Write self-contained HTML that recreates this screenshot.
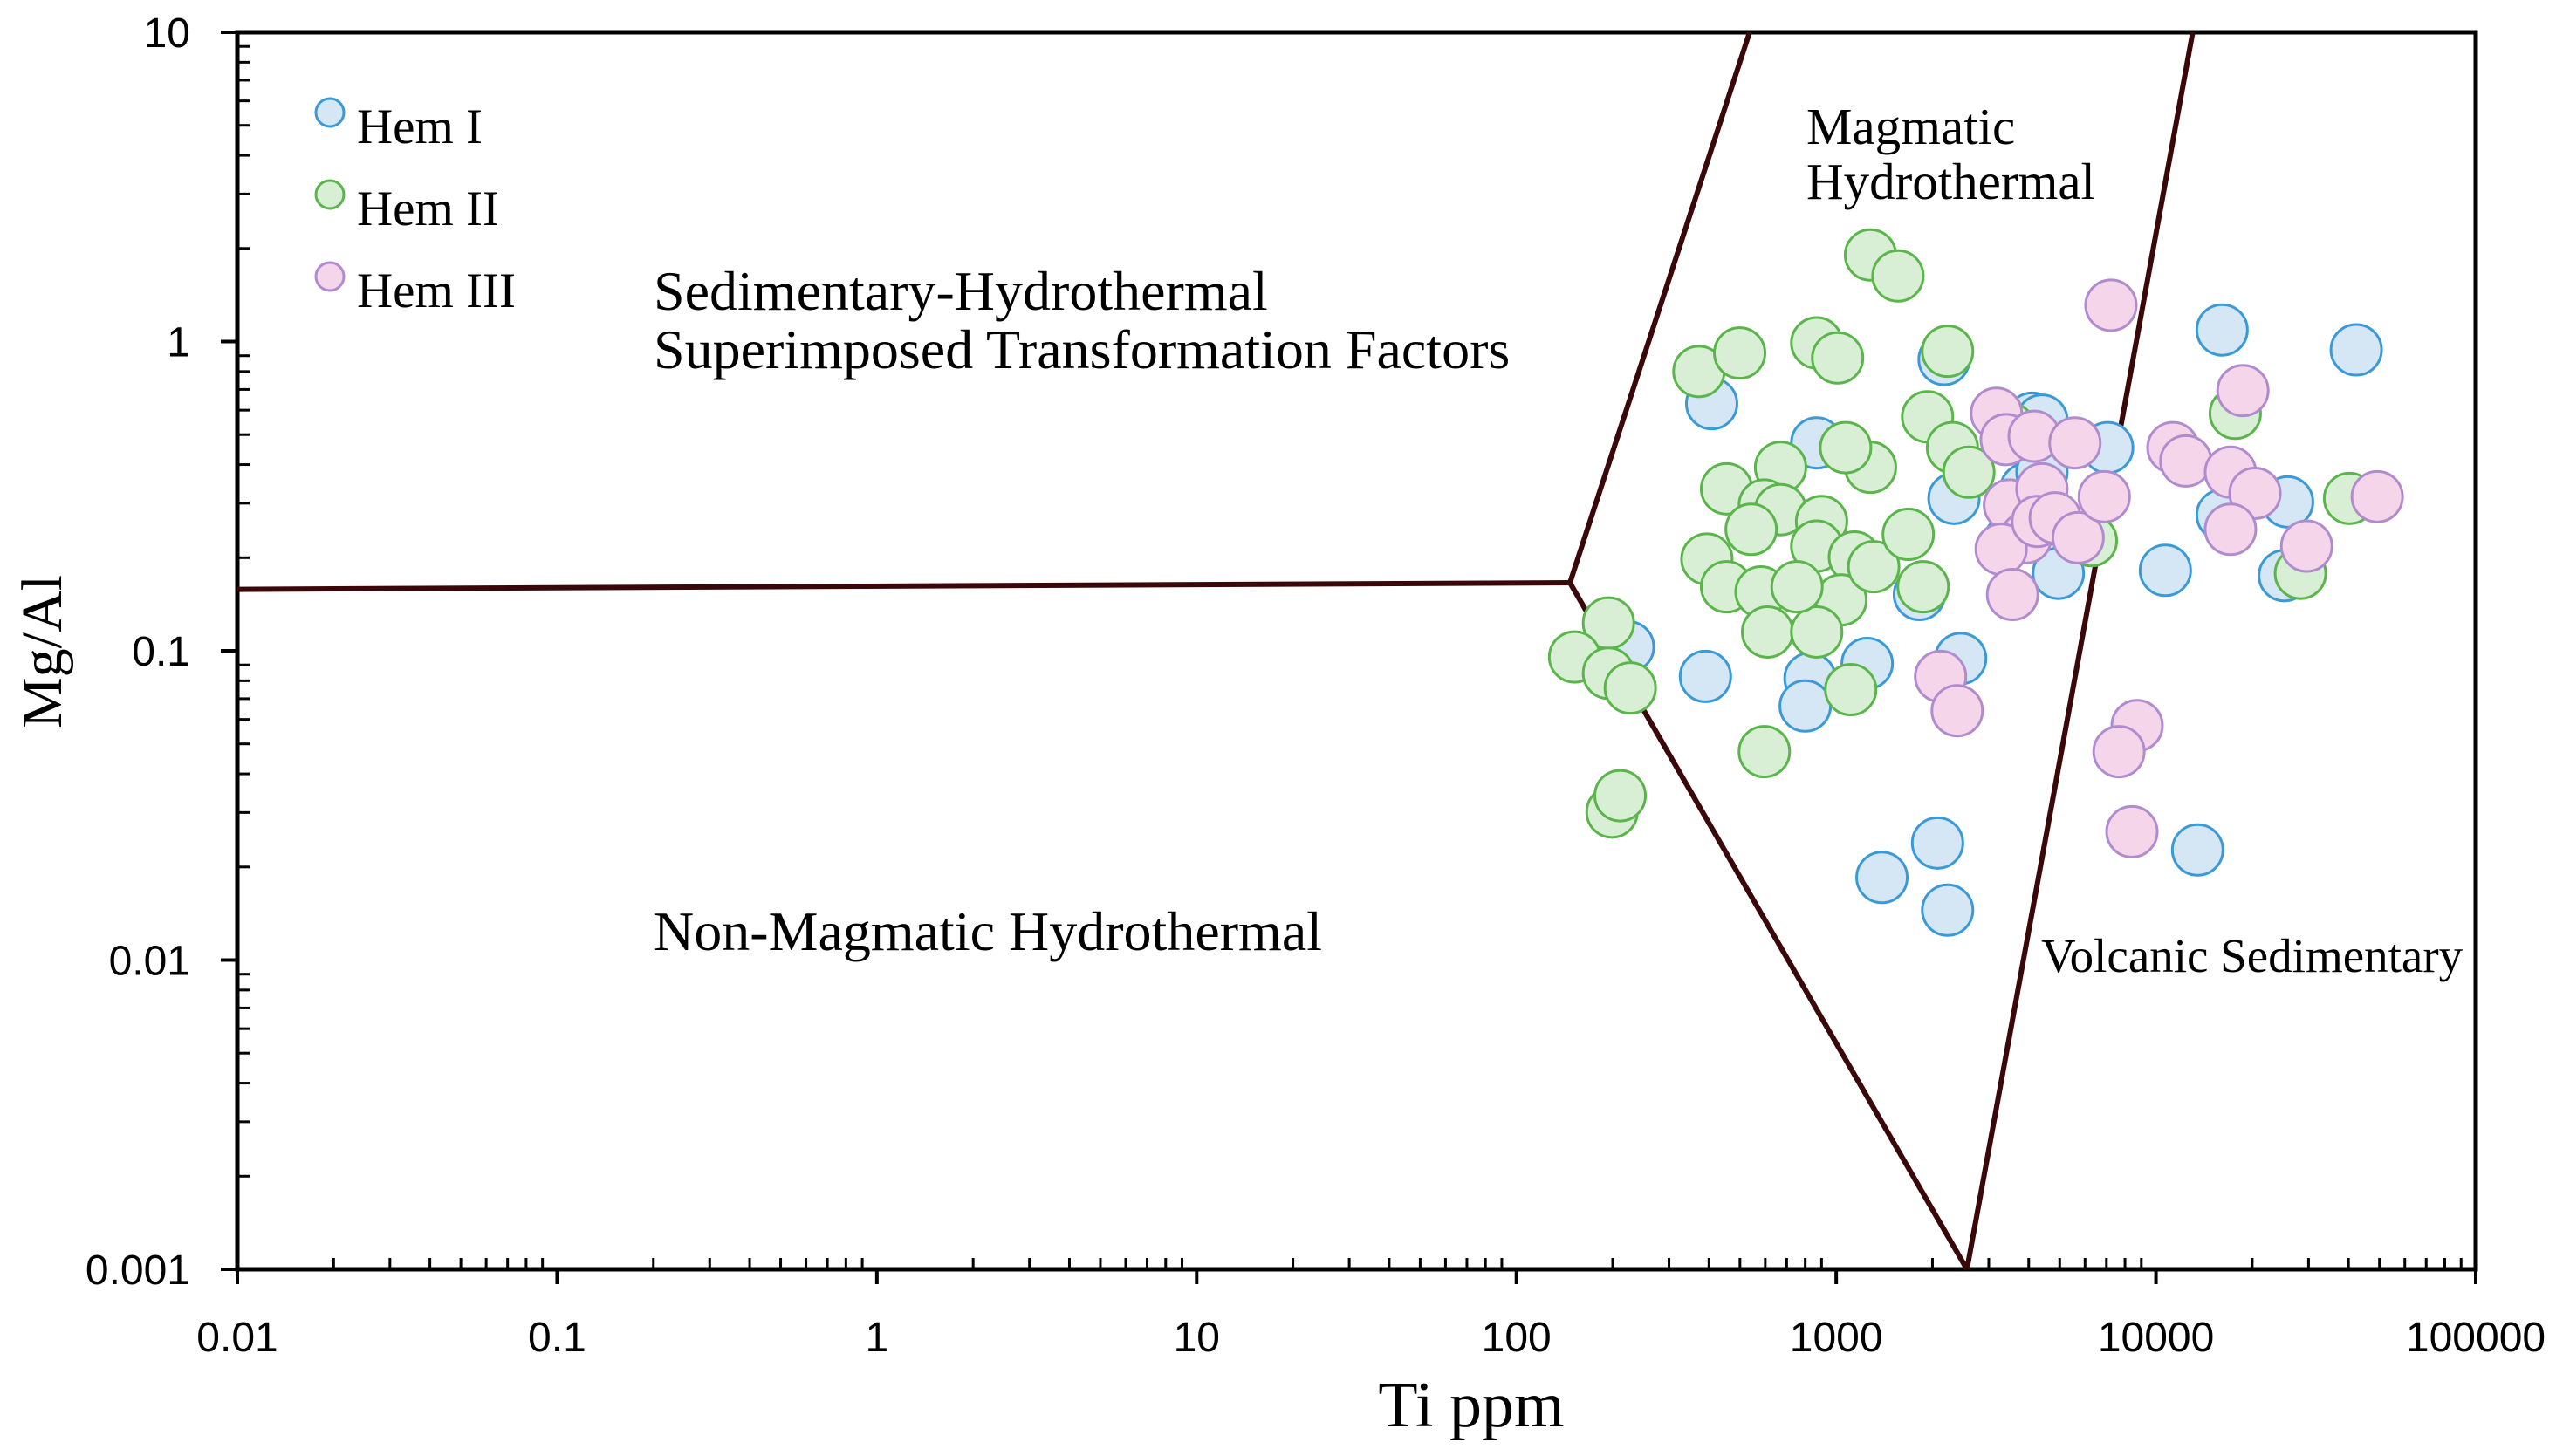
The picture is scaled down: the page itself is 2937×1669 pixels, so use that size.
<!DOCTYPE html>
<html><head><meta charset="utf-8"><style>
html,body{margin:0;padding:0;background:#fff;}
svg{display:block;}
.serif{font-family:"Liberation Serif",serif;}
.sans{font-family:"Liberation Sans",sans-serif;}
</style></head><body>
<svg id="chart" width="2937" height="1669" viewBox="0 0 2937 1669" xmlns="http://www.w3.org/2000/svg">
<g id="plot"></g>
</svg>
<script>
// Data arrays (Ti ppm, Mg/Al)
const hem1Ti = [408,869,2175,4100,4400,7060,2335,16100,42300,25800,16100,10700,25200,4950,1820,3480,224,390,828,800,1250,2450,1390,2075,2230,13500,3920,4400];
const hem1Mg = [0.63,0.47,0.875,0.565,0.557,0.454,0.311,1.09,0.94,0.303,0.275,0.182,0.175,0.178,0.152,0.227,0.103,0.0826,0.0815,0.0663,0.091,0.0944,0.0185,0.0239,0.0145,0.0227,0.334,0.378];
const hem2Ti = [1280,1560,372,499,869,1010,2230,1930,2310,454,670,1280,1070,596,670,542,394,454,582,610,900,869,1140,1035,1310,1680,1870,869,1110,194,152,194,227,199,211,596,17700,40300,28300,6280,2600,3480,754];
const hem2Mg = [1.905,1.63,0.80,0.918,0.99,0.885,0.93,0.571,0.454,0.334,0.392,0.392,0.454,0.296,0.286,0.247,0.198,0.161,0.155,0.115,0.262,0.218,0.201,0.146,0.187,0.238,0.161,0.115,0.0749,0.123,0.0955,0.0846,0.0758,0.0301,0.034,0.0472,0.586,0.311,0.178,0.227,0.378,0.525,0.161];
const hem3Ti = [7230,3170,3400,4160,5580,3480,4400,3920,3280,3560,4260,4840,5710,6890,11300,12400,17100,18700,20400,17100,29600,49200,2120,2390,8730,7660,8410];
const hem3Mg = [1.31,0.586,0.482,0.494,0.47,0.296,0.334,0.232,0.213,0.152,0.262,0.269,0.232,0.315,0.454,0.411,0.378,0.694,0.323,0.247,0.218,0.315,0.0826,0.064,0.0573,0.0472,0.026];
// Boundary vertices
const bndHorizTi = [0.01,147];
const bndHorizMg = [0.158,0.166];
const bndUpperTi = [147,536];
const bndUpperMg = [0.166,10];
const bndLowerTi = [147,2564];
const bndLowerMg = [0.166,0.001];
const bndRightTi = [2564,13030];
const bndRightMg = [0.001,10];
const xTickVals = [0.01,0.1,1,10,100,1000,10000,100000];
const xTickLabels = ["0.01","0.1","1","10","100","1000","10000","100000"];
const yTickVals = [0.001,0.01,0.1,1,10];
const yTickLabels = ["0.001","0.01","0.1","1","10"];

const X0=272,X1=2837,Y0=37,Y1=1455;
const xs=v=>X0+(Math.log10(v)+2)/7*(X1-X0);
const ys=v=>Y0+(1-Math.log10(v))/4*(Y1-Y0);
const NS="http://www.w3.org/2000/svg";
const g=document.getElementById('plot');
function mk(tag,attrs,parent){const e=document.createElementNS(NS,tag);for(const k in attrs)e.setAttribute(k,attrs[k]);(parent||g).appendChild(e);return e;}

// minor ticks
for(let d=-2;d<5;d++){for(let m=2;m<=9;m++){const x=xs(m*Math.pow(10,d));
const t=mk('line',{x1:x,x2:x,y1:Y1,y2:Y1-13,stroke:'#000','stroke-width':3});

}}
for(let d=-3;d<1;d++){for(let m=2;m<=9;m++){const y=ys(m*Math.pow(10,d));
const t=mk('line',{x1:X0,x2:X0+14,y1:y,y2:y,stroke:'#000','stroke-width':3});

}}
// major ticks + labels
xTickVals.forEach((v,i)=>{const x=xs(v);
const t=mk('line',{x1:x,x2:x,y1:Y1,y2:Y1+17,stroke:'#000','stroke-width':4});


const l=mk('text',{x:x,y:1549,'text-anchor':'middle','font-size':48,class:'sans'});
l.textContent=xTickLabels[i];

});
yTickVals.forEach((v,i)=>{const y=ys(v);
const t=mk('line',{x1:X0-19,x2:X0,y1:y,y2:y,stroke:'#000','stroke-width':4});


const l=mk('text',{x:218,y:y+17,'text-anchor':'end','font-size':48,class:'sans'});
l.textContent=yTickLabels[i];

});
// frame
const fr=mk('rect',{x:X0,y:Y0,width:X1-X0,height:Y1-Y0,fill:'none',stroke:'#000','stroke-width':5});


// boundaries
function bnd(tx,my,name){const d=tx.map((v,i)=>(i?'L':'M')+xs(v)+','+ys(my[i])).join(' ');
const p=mk('path',{d:d,fill:'none',stroke:'#3a0808','stroke-width':6});

}
bnd(bndHorizTi,bndHorizMg,'boundary-horizontal');
bnd(bndUpperTi,bndUpperMg,'boundary-upper');
bnd(bndLowerTi,bndLowerMg,'boundary-lower');
bnd(bndRightTi,bndRightMg,'boundary-right');
// points
function series(tx,my,fill,stroke,name){tx.forEach((v,i)=>{
const c=mk('circle',{cx:xs(v),cy:ys(my[i]),r:29,fill:fill,stroke:stroke,'stroke-width':3});

});}
series(hem1Ti,hem1Mg,'#d5e6f4','#3a9ad8','hem-i-point');
series(hem2Ti,hem2Mg,'#d9efd5','#5ab54a','hem-ii-point');
series(hem3Ti,hem3Mg,'#f5d5ea','#b08ccf','hem-iii-point');
// legend
[['Hem I','#d5e6f4','#3a9ad8'],['Hem II','#d9efd5','#5ab54a'],['Hem III','#f5d5ea','#b08ccf']].forEach((e,i)=>{
const c=mk('circle',{cx:378,cy:129+i*94,r:16,fill:e[1],stroke:e[2],'stroke-width':3});


const t=mk('text',{x:409,y:164+i*94,'font-size':57,class:'serif'});
t.textContent=e[0];

});
// region labels
function lab(txt,x,y,fs,name,anchor,rot){const t=mk('text',{x:x,y:y,'font-size':fs,class:'serif','text-anchor':anchor||'start'});
if(rot)t.setAttribute('transform',rot);
t.textContent=txt;

}
lab('Magmatic',2070,165,59,'region-label-magmatic');
lab('Hydrothermal',2070,228,59,'region-label-magmatic-2');
lab('Sedimentary-Hydrothermal',749,355,64,'region-label-sedimentary');
lab('Superimposed Transformation Factors',749,422,64,'region-label-sedimentary-2');
lab('Non-Magmatic Hydrothermal',749,1089,64,'region-label-non-magmatic');
lab('Volcanic Sedimentary',2339,1114,55,'region-label-volcanic');
lab('Ti ppm',1686,1635,74,'x-axis-title','middle');
lab('Mg/Al',70,747,66,'y-axis-title','middle','rotate(-90 70 747)');
</script>
</body></html>
